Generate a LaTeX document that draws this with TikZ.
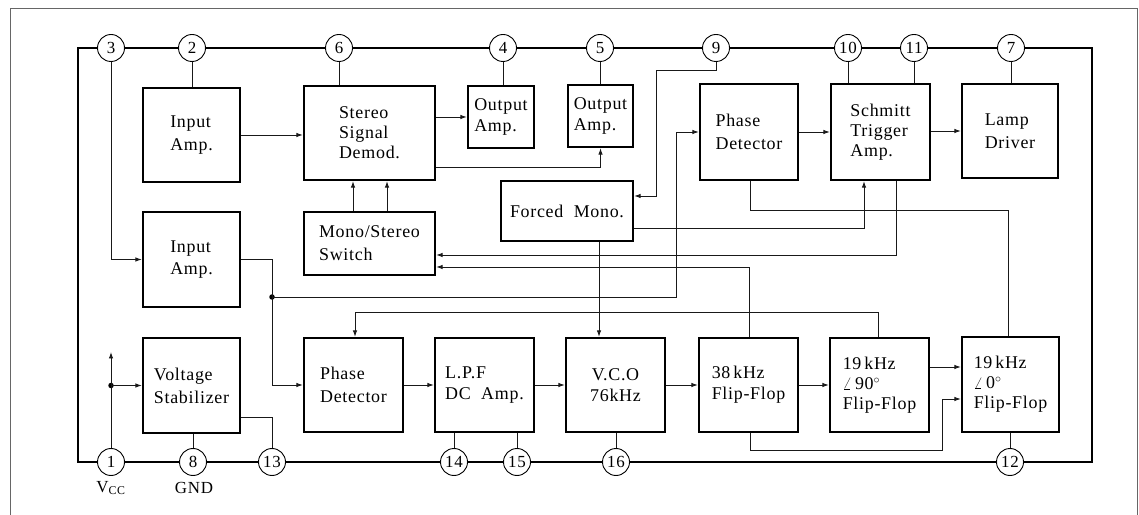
\documentclass[tikz,border=0pt]{standalone}
\usepackage{fontspec}
\setmainfont{Liberation Serif}[LetterSpace=4]
\usetikzlibrary{arrows.meta}
\tikzset{
  wire/.style={line width=0.9bp, draw=black!90},
  arr/.style={wire, -{Latex[length=6.5bp,width=4.5bp]}},
  blk/.style 2 args={draw, line width=2.3bp, inner sep=0pt, align=left,
     minimum width=#1bp, minimum height=#2bp,
     font=\fontsize{18}{23}\selectfont},
  three/.style={font=\fontsize{18}{20}\selectfont},
  two/.style={font=\fontsize{18}{21}\selectfont},
  pin/.style={circle, draw, line width=0.9bp, fill=white, inner sep=0pt,
     minimum size=27bp, font=\fontsize{17}{17}\selectfont},
  dot/.style={circle, fill=black, inner sep=0pt, minimum size=5.5bp},
  lbl/.style={font=\fontsize{17}{17}\selectfont, inner sep=0pt}
}
\begin{document}
\begin{tikzpicture}[x=1bp, y=-1bp]
\useasboundingbox (0,0) rectangle (1139,515);
% outer frame
\draw[line width=0.7bp, draw=black!60] (10,515) -- (10,8) -- (1137,8) -- (1137,515);
% bus
\draw[line width=2bp] (78,48) rectangle (1092,462);

% blocks
\node[blk={97}{94}] (ia1) at (191.5,135) {Input\\Amp.};
\node[blk={131}{94}, three] (ssd) at (369.5,133) {Stereo\\Signal\\Demod.};
\node[blk={66}{62}, two] (oa4) at (501,117) {Output\\Amp.};
\node[blk={65}{62}, two] (oa5) at (600.5,116) {Output\\Amp.};
\node[blk={98}{96}] (pdt) at (749,132) {Phase\\Detector};
\node[blk={99}{96}, three] (sta) at (880.5,132) {Schmitt\\Trigger\\Amp.};
\node[blk={96}{94}] (ld) at (1010,131) {Lamp\\Driver};
\node[blk={131}{63}] (mss) at (369.5,243.5) {Mono/Stereo\\Switch};
\node[blk={132}{60}] (fm) at (567,211) {Forced\ \ Mono.};
\node[blk={97}{95}] (ia2) at (191.5,259.5) {Input\\Amp.};
\node[blk={97}{95}] (vs) at (191.5,385.5) {Voltage\\Stabilizer};
\node[blk={99}{94}] (pdb) at (353.5,385) {Phase\\Detector};
\node[blk={99}{94}, two] (lpf) at (484.5,385) {L.P.F\\DC\ \ Amp.};
\node[blk={99}{94}, align=center, two] (vco) at (615.5,385) {V.C.O\\76kHz};
\node[blk={99}{94}, two] (ff38) at (748.5,385) {38\,kHz\\Flip-Flop};
\node[blk={99}{94}, three] (ff90) at (879.5,385) {19\,kHz\\$\angle$\,90$^\circ$\\Flip-Flop};
\node[blk={97}{95}, three] (ff0) at (1010.5,384.5) {19\,kHz\\$\angle$\,0$^\circ$\\Flip-Flop};

% pins
\node[pin] (p3) at (111,48) {3};
\node[pin] (p2) at (192,48) {2};
\node[pin] (p6) at (339,48) {6};
\node[pin] (p4) at (503,48) {4};
\node[pin] (p5) at (600,48) {5};
\node[pin] (p9) at (716,48) {9};
\node[pin] (p10) at (848,48) {10};
\node[pin] (p11) at (914,48) {11};
\node[pin] (p7) at (1011,48) {7};
\node[pin] (p1) at (111,462) {1};
\node[pin] (p8) at (193,462) {8};
\node[pin] (p13) at (272,462) {13};
\node[pin] (p14) at (454,462) {14};
\node[pin] (p15) at (517,462) {15};
\node[pin] (p16) at (616,462) {16};
\node[pin] (p12) at (1010,462) {12};
\node[lbl] (vcc) at (111,488) {V\textsubscript{CC}};
\node[lbl] (gnd) at (194,488) {GND};

% pin stubs
\draw[wire] (p2.south) -- (p2.south |- ia1.north);
\draw[wire] (p6.south) -- (p6.south |- ssd.north);
\draw[wire] (p4.south) -- (p4.south |- oa4.north);
\draw[wire] (p5.south) -- (p5.south |- oa5.north);
\draw[wire] (p10.south) -- (p10.south |- sta.north);
\draw[wire] (p11.south) -- (p11.south |- sta.north);
\draw[wire] (p7.south) -- (p7.south |- ld.north);
\draw[wire] (p8.north) -- (p8.north |- vs.south);
\draw[wire] (p14.north) -- (p14.north |- lpf.south);
\draw[wire] (p15.north) -- (p15.north |- lpf.south);
\draw[wire] (p16.north) -- (p16.north |- vco.south);
\draw[wire] (p12.north) -- (p12.north |- ff0.south);

% coordinates
\coordinate (c1) at (435,167);
\coordinate (n9) at (656,70);
\coordinate (k1) at (676,297);
\coordinate (k2) at (1008,210);
\coordinate (k3) at (864,228);
\coordinate (k4) at (896,255);
\coordinate (k5) at (749,267);
\coordinate (k6) at (599,300);
\coordinate (k7) at (878,312);
\coordinate (k8) at (355,312);
\coordinate (k9) at (940,367);
\coordinate (k10) at (750,450);
\coordinate (k11) at (942,399);
\coordinate (k12) at (111,352);
\coordinate (k13) at (272,417);
\node[dot] (dotA) at (272,297) {};
\node[dot] (dotB) at (111,385.5) {};

% top section
\draw[arr] (p3.south) |- (ia2.west);
\draw[arr] (ia1.east) -- (ssd.west |- ia1.east);
\draw[arr] (ssd.east |- oa4.west) -- (oa4.west);
\draw[arr] (ssd.east |- c1) -| (oa5.south);
\draw[arr] ([xshift=-16.5bp]mss.north) -- ([xshift=-16.5bp]ssd.south);
\draw[arr] ([xshift=17.5bp]mss.north) -- ([xshift=17.5bp]ssd.south);
\draw[arr] (p9.south) |- (n9) |- ([yshift=15bp]fm.east);
\draw[arr] (pdt.east) -- (sta.west);
\draw[arr] (sta.east |- ld.west) -- (ld.west);
\draw[wire] (ia2.east) -| (dotA.center);
\draw[arr] (dotA.center) |- (pdb.west);
\draw[arr] (dotA.center) -- (k1) |- (pdt.west);
\draw[wire] (pdt.south -| k10) |- (k2) -- (k2 |- ff0.north);
\draw[arr] (fm.east |- k3) -- (k3) -- (k3 |- sta.south);
\draw[arr] (k4 |- sta.south) -- (k4) -- (mss.east |- k4);
\draw[arr] (k5 |- ff38.north) -- (k5) -- (mss.east |- k5);
\draw[arr] (k6 |- fm.south) -- (k6 |- vco.north);
\draw[arr] (k7 |- ff90.north) -- (k7) -- (k8) -- (k8 |- pdb.north);

% bottom chain
\draw[arr] (pdb.east) -- (lpf.west);
\draw[arr] (lpf.east) -- (vco.west);
\draw[arr] (vco.east) -- (ff38.west);
\draw[arr] (ff38.east) -- (ff90.west);
\draw[arr] (ff90.east |- k9) -- (ff0.west |- k9);
\draw[arr] (k10 |- ff38.south) -- (k10) -| (k11) -- (ff0.west |- k11);

% supply
\draw[arr] (p1.north) -- (k12);
\draw[arr] (dotB.center) -- (vs.west);
\draw[wire] (vs.east |- k13) -- (k13) -- (p13.north);
\end{tikzpicture}
\end{document}
